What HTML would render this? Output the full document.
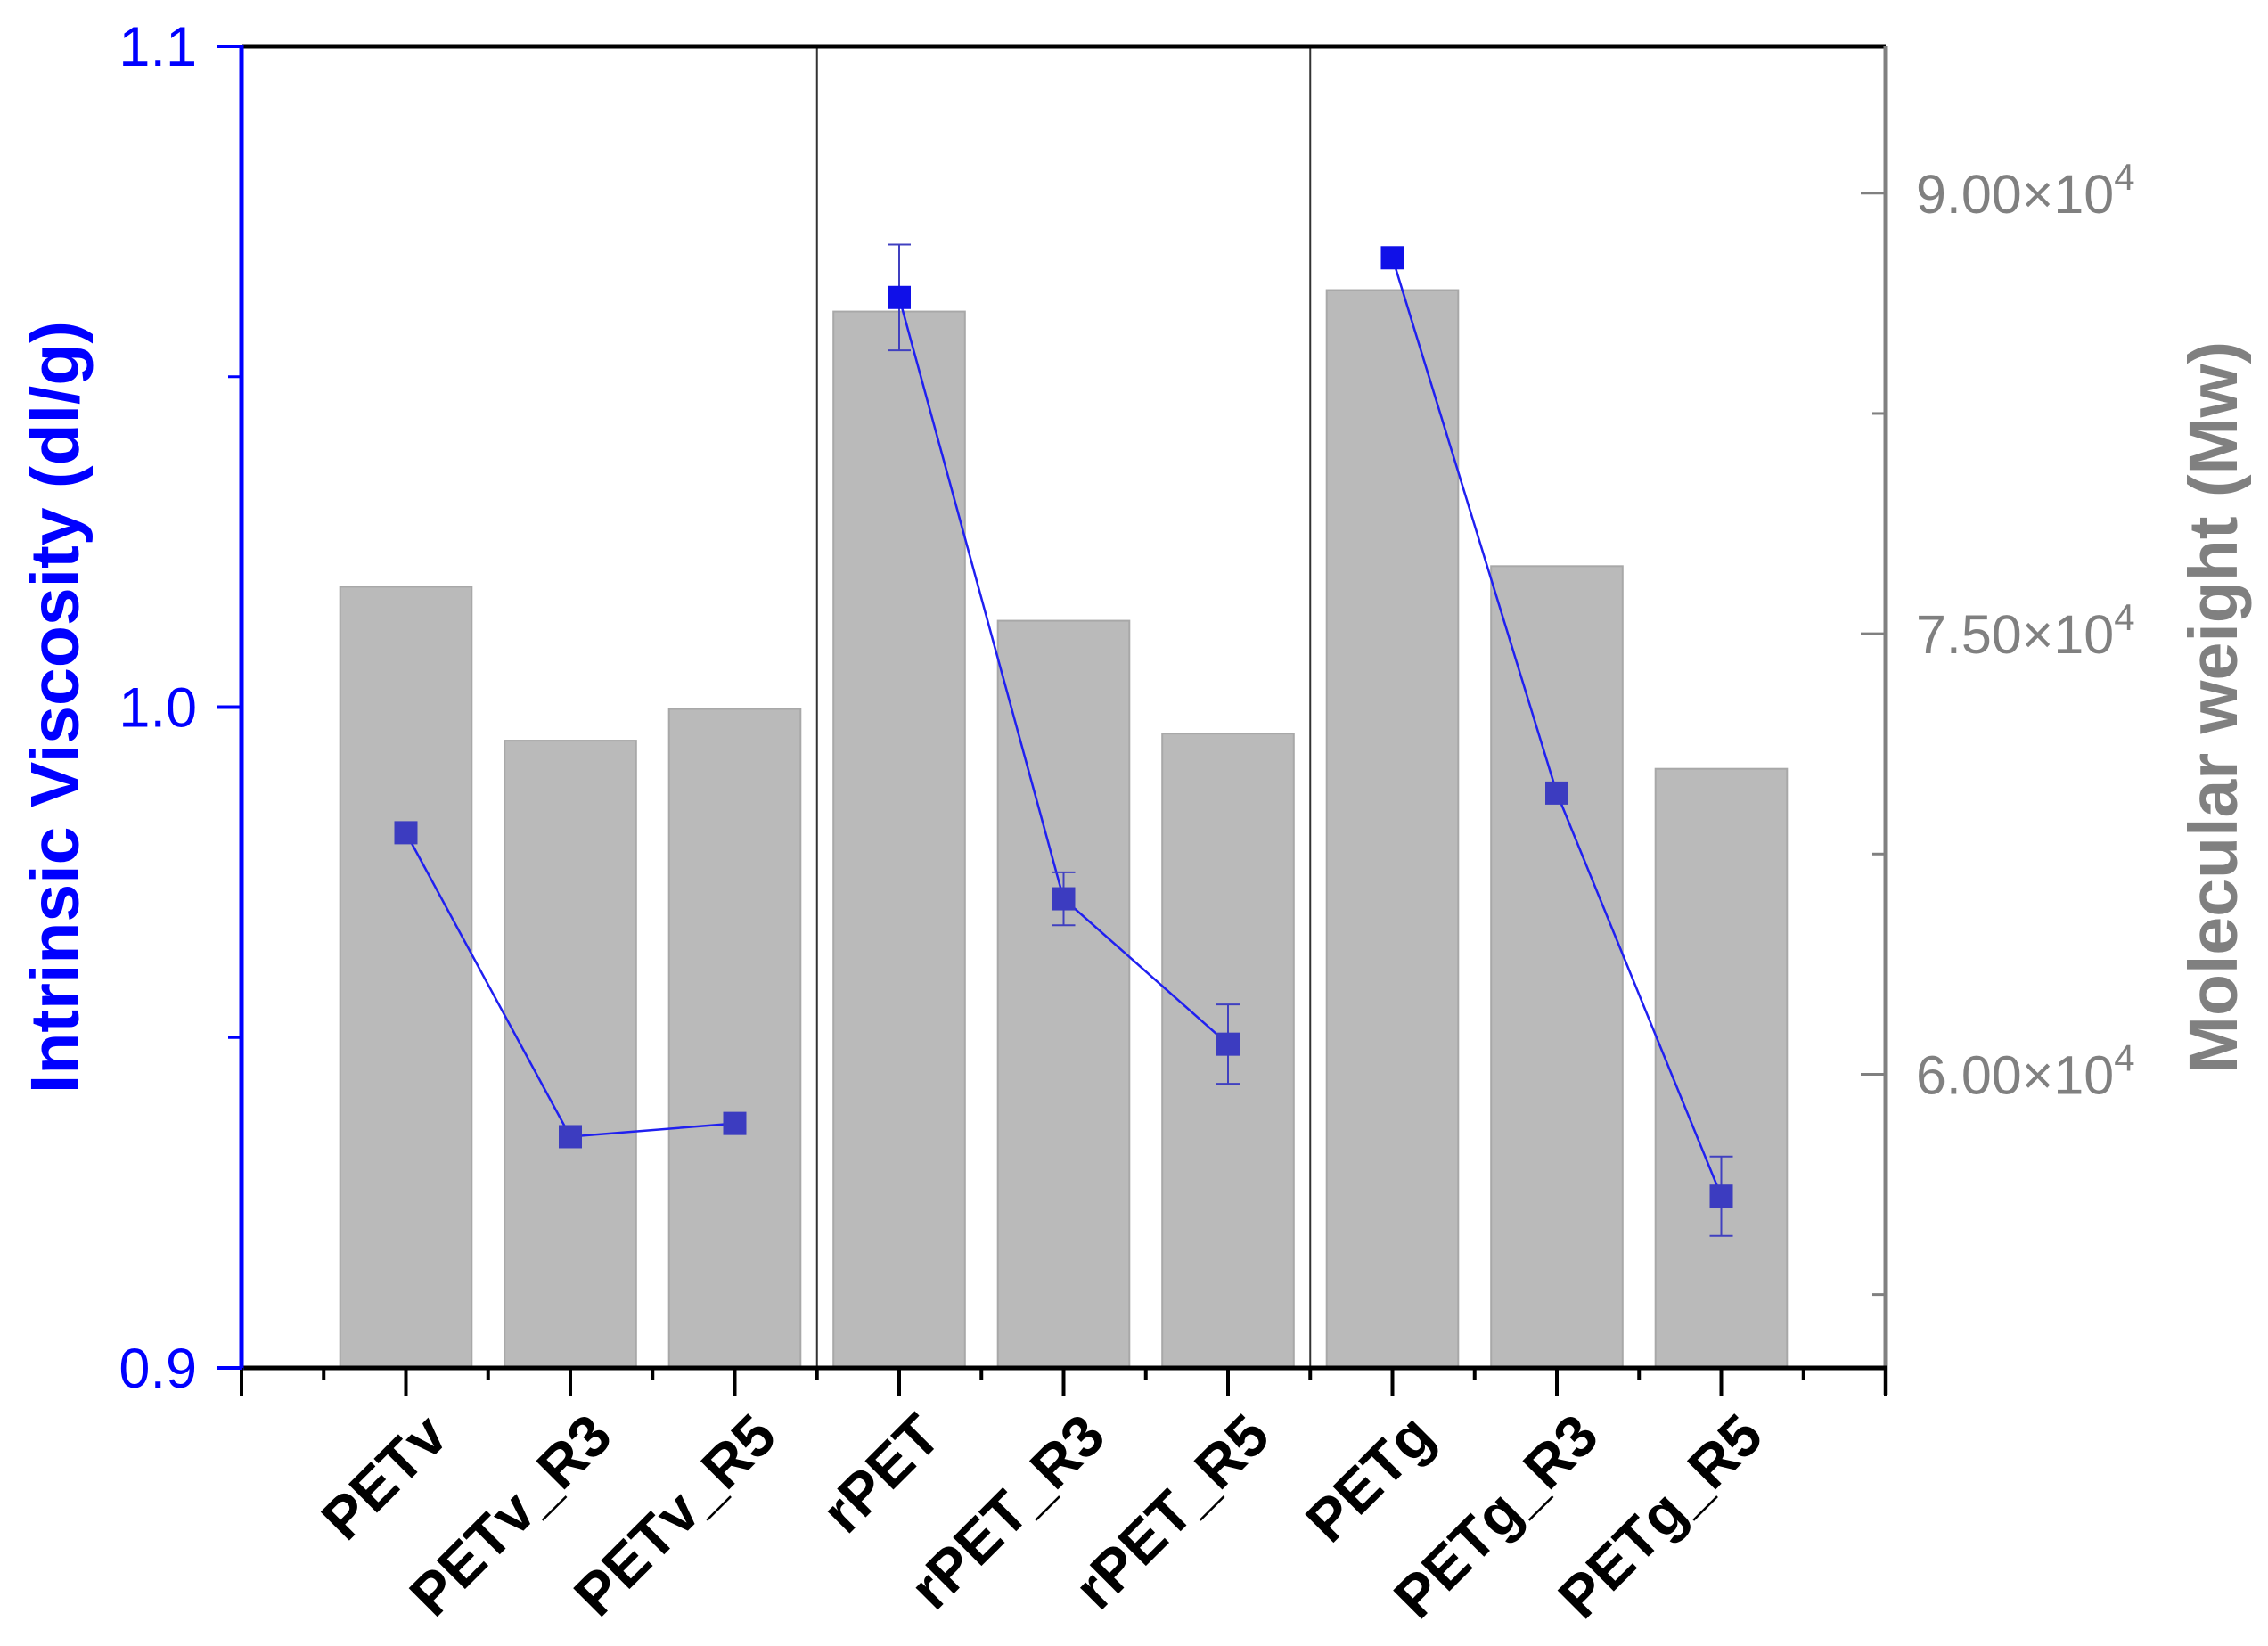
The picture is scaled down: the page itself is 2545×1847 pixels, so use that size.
<!DOCTYPE html>
<html><head><meta charset="utf-8"><style>
html,body{margin:0;padding:0;background:#fff;}
svg{display:block;font-family:"Liberation Sans",Arial,sans-serif;}
</style></head><body>
<svg id="chart" width="2545" height="1847" viewBox="0 0 2545 1847" xmlns="http://www.w3.org/2000/svg"></svg>
<script>
const categories = ["PETv","PETv_R3","PETv_R5","rPET","rPET_R3","rPET_R5","PETg","PETg_R3","PETg_R5"];
const mwValues = [76600,71360,72440,85970,75440,71600,86700,77300,70400];
const ivValues = [0.981,0.935,0.937,1.062,0.971,0.949,1.068,0.987,0.926];
const ivErrors = [0,0,0,0.008,0.004,0.006,0,0,0.006];
const groups = [[0,1,2],[3,4,5],[6,7,8]];
const leftTicks = [0.9,1.0,1.1];
const leftTickLabels = ["0.9","1.0","1.1"];
const leftMinor = [0.95,1.05];
const rightTicks = [60000,75000,90000];
const rightTickLabels = ["6.00","7.50","9.00"];
const rightMinor = [52500,67500,82500];

const L=271,R=2116,T=52,B=1535;
const ns="http://www.w3.org/2000/svg";
const svg=document.getElementById('chart');
function yL(v){return B-(v-0.9)/0.2*(B-T);}
function yR(v){return B-(v-50000)/45000*(B-T);}
const step=(R-L)/10;
function xC(i){return L+(i+1)*step;}
function mk(tag,attrs,parent){const e=document.createElementNS(ns,tag);for(const k in attrs)e.setAttribute(k,attrs[k]);(parent||svg).appendChild(e);return e;}

categories.forEach((c,i)=>{
  const w=step*0.8, y=yR(mwValues[i]);
  const r=mk('rect',{x:xC(i)-w/2,y:y,width:w,height:B-y,fill:'#bababa',stroke:'#a8a8a8','stroke-width':2});
  
  
});
[2.5,5.5].forEach(k=>{
  const l=mk('line',{x1:L+(k+1)*step,x2:L+(k+1)*step,y1:T,y2:B,stroke:'#333','stroke-width':2});
  
  
});
let a=mk('line',{x1:L,x2:R,y1:T,y2:T,stroke:'#000','stroke-width':5});


a=mk('line',{x1:R,x2:R,y1:T,y2:B+30,stroke:'#808080','stroke-width':5});


a=mk('line',{x1:L-2,x2:R+2,y1:B,y2:B,stroke:'#000','stroke-width':5});


a=mk('line',{x1:L,x2:L,y1:T-2,y2:B+2,stroke:'#0000ff','stroke-width':5});



for(let k=0;k<=20;k++){
  const x=L+k*step/2, major=k%2===0;
  mk('line',{x1:x,x2:x,y1:B,y2:B+(major?32:14),stroke:'#000','stroke-width':4});
}
leftTicks.forEach((v,i)=>{
  mk('line',{x1:L-28,x2:L,y1:yL(v),y2:yL(v),stroke:'#0000ff','stroke-width':4});
  const t=mk('text',{x:L-50,y:yL(v)+22,'text-anchor':'end','font-size':63,fill:'#0000ff'});
  t.textContent=leftTickLabels[i];
  
  
});
leftMinor.forEach(v=>mk('line',{x1:L-15,x2:L,y1:yL(v),y2:yL(v),stroke:'#0000ff','stroke-width':3}));
rightTicks.forEach((v,i)=>{
  mk('line',{x1:R-28,x2:R,y1:yR(v),y2:yR(v),stroke:'#808080','stroke-width':3});
  const t=mk('text',{x:R+34,y:yR(v)+22,'font-size':61,fill:'#808080'});
  t.textContent=rightTickLabels[i]+'×10';
  const s=mk('tspan',{dy:-26,'font-size':42},t);s.textContent='4';
  
  
});
rightMinor.forEach(v=>mk('line',{x1:R-15,x2:R,y1:yR(v),y2:yR(v),stroke:'#808080','stroke-width':3}));

groups.forEach(g=>{
  const pts=g.map(i=>xC(i)+','+yL(ivValues[i])).join(' ');
  const p=mk('polyline',{points:pts,fill:'none',stroke:'#2020f0','stroke-width':2.5});
  
  
});
categories.forEach((c,i)=>{
  const x=xC(i),y=yL(ivValues[i]),e=ivErrors[i];
  if(e>0){
    const y1=yL(ivValues[i]+e),y2=yL(ivValues[i]-e);
    mk('line',{x1:x,x2:x,y1:y1,y2:y2,stroke:'#4040c0','stroke-width':2});
    mk('line',{x1:x-13,x2:x+13,y1:y1,y2:y1,stroke:'#4040c0','stroke-width':2});
    mk('line',{x1:x-13,x2:x+13,y1:y2,y2:y2,stroke:'#4040c0','stroke-width':2});
  }
  const bright=(i===3||i===6);
  const m=mk('rect',{x:x-13,y:y-13,width:26,height:26,fill:bright?'#1010e8':'#3c3cc0'});
  
  
  const tx=x+50, ty=1615;
  const t=mk('text',{x:tx,y:ty,'text-anchor':'end','font-size':66,'font-weight':'bold',fill:'#000',transform:'rotate(-45 '+tx+' '+ty+')'});
  t.textContent=c;
  
  
});
let t=mk('text',{x:88,y:(T+B)/2,'text-anchor':'middle','font-size':77,'font-weight':'bold',fill:'#0000ff',transform:'rotate(-90 88 '+(T+B)/2+')'});
t.textContent='Intrinsic Viscosity (dl/g)';


t=mk('text',{x:2510,y:(T+B)/2,'text-anchor':'middle','font-size':77,'font-weight':'bold',fill:'#808080',transform:'rotate(-90 2510 '+(T+B)/2+')'});
t.textContent='Molecular weight (Mw)';


</script>
</body></html>
